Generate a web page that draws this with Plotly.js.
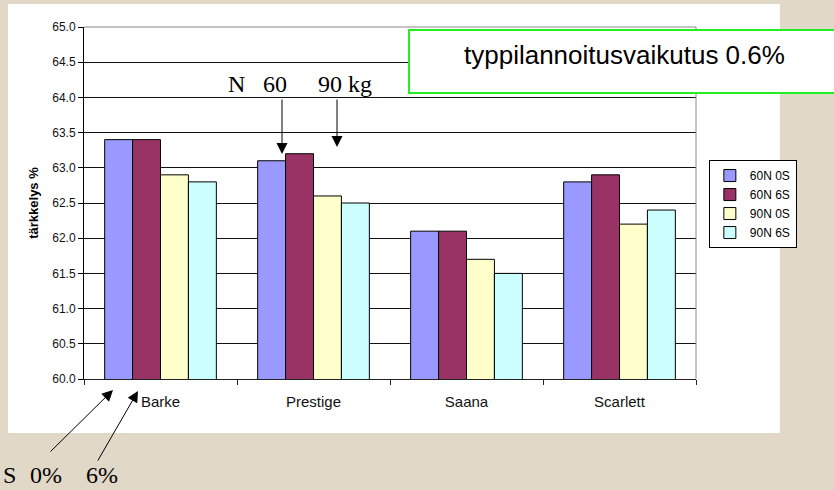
<!DOCTYPE html>
<html>
<head>
<meta charset="utf-8">
<script src="https://cdn.plot.ly/plotly-3.0.1.min.js"></script>
<style>html,body{margin:0;padding:0;background:#e2d8c8;}#chart{width:834px;height:490px;}</style>
</head>
<body>
<div id="chart"></div>
<script>
const categories = ["Barke", "Prestige", "Saana", "Scarlett"];
const seriesNames = ["60N 0S", "60N 6S", "90N 0S", "90N 6S"];
const v60N0S = [63.4, 63.1, 62.1, 62.8];
const v60N6S = [63.4, 63.2, 62.1, 62.9];
const v90N0S = [62.9, 62.6, 61.7, 62.2];
const v90N6S = [62.8, 62.5, 61.5, 62.4];
const seriesValues = [v60N0S, v60N6S, v90N0S, v90N6S];
const colors = ["#9999ff", "#993366", "#ffffcc", "#ccffff"];
const yTitle = "tärkkelys %";
const boxText = "typpilannoitusvaikutus 0.6%";

const traces = seriesNames.map((name, i) => ({
  type: "bar",
  name: name,
  legendgroup: "g" + i,
  x: categories,
  y: seriesValues[i],
  marker: {color: colors[i], line: {color: "#000", width: 1}},
  hoverinfo: "x+y+name"
}));

const serif = {family: "Liberation Serif", size: 24, color: "#000"};
function txt(px, py, s) {
  return {xref: "paper", yref: "paper", x: (px - 84) / 612, y: (379 - py) / 352, text: s,
          showarrow: false, font: serif, xanchor: "center", yanchor: "middle"};
}
function arrow(tx, ty, ax, ay) {
  return {xref: "paper", yref: "paper", x: (tx - 84) / 612, y: (379 - ty) / 352, ax: ax, ay: ay,
          text: "", showarrow: true, arrowhead: 2, arrowsize: 2.2, arrowwidth: 1, arrowcolor: "#000"};
}

const layout = {
  width: 834, height: 490,
  margin: {l: 84, r: 138, t: 27, b: 111, pad: 0},
  paper_bgcolor: "#e2d8c8",
  plot_bgcolor: "#ffffff",
  barmode: "group",
  bargap: 0.27,
  bargroupgap: 0,
  font: {family: "Arial, Liberation Sans, sans-serif", color: "#000"},
  showlegend: true,
  legend: {
    x: 1.021, y: 0.622, xanchor: "left", yanchor: "top",
    bordercolor: "#000", borderwidth: 1, bgcolor: "#fff",
    font: {size: 12, color: "#000"}, itemwidth: 30, traceorder: "normal",
    tracegroupgap: 3
  },
  xaxis: {
    type: "category",
    showline: true, linecolor: "#222", linewidth: 1,
    ticks: "outside", ticklen: 5, tickcolor: "#222", tickson: "boundaries",
    tickfont: {size: 15, color: "#111"}, ticklabelstandoff: 9,
    showgrid: false, zeroline: false, fixedrange: true
  },
  yaxis: {
    range: [60, 65], dtick: 0.5, tick0: 60, tickformat: ".1f",
    showline: true, linecolor: "#000", linewidth: 1,
    ticks: "outside", ticklen: 5, tickcolor: "#000",
    tickfont: {size: 12, color: "#111"},
    showgrid: true, gridcolor: "#111", gridwidth: 1, zeroline: false,
    title: {text: yTitle, font: {size: 13, color: "#000", weight: "bold"}, standoff: 10},
    fixedrange: true
  },
  shapes: [
    {type: "rect", xref: "paper", yref: "paper", x0: -0.1242, x1: 1.1373, y0: -0.1534, y1: 1.0653,
     fillcolor: "#ffffff", line: {width: 0}, layer: "below"},
    {type: "line", xref: "paper", yref: "paper", x0: 0, x1: 1, y0: 1, y1: 1, line: {color: "#888", width: 1}, layer: "above"},
    {type: "line", xref: "paper", yref: "paper", x0: 1, x1: 1, y0: 0, y1: 1, line: {color: "#888", width: 1}, layer: "above"},
    {type: "rect", xref: "paper", yref: "paper", x0: 0.531, x1: 1.245, y0: 0.8125, y1: 0.9915,
     fillcolor: "#ffffff", line: {color: "#22ee22", width: 2}, layer: "above"}
  ],
  annotations: [
    {xref: "paper", yref: "paper", x: (624 - 84) / 612, y: (379 - 55) / 352, text: boxText, showarrow: false,
     font: {size: 26, color: "#000"}, xanchor: "center", yanchor: "middle"},
    txt(236.5, 84, "N"),
    txt(274.5, 84, "60"),
    txt(344.5, 84, "90 kg"),
    arrow(282, 154, 0, -56),
    arrow(337, 147, 0, -49),
    arrow(113, 390, -64, 63),
    arrow(138, 391, -41, 71),
    txt(9, 475, "S"),
    txt(46, 475, "0%"),
    txt(102, 475, "6%")
  ]
};

Plotly.newPlot("chart", traces, layout, {displayModeBar: false, staticPlot: true});
</script>
</body>
</html>
